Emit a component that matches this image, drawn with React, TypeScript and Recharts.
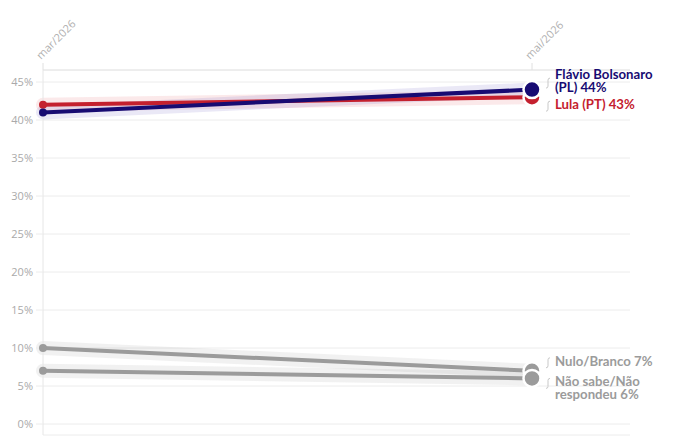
import React from 'react';
import { LineChart, Line, XAxis, YAxis, CartesianGrid } from 'recharts';

const periods = ['mar/2026', 'mai/2026'];
const flavio = [41, 44];
const lula = [42, 43];
const nulo = [10, 7];
const naoSabe = [7, 6];
const yTicks = [0, 5, 10, 15, 20, 25, 30, 35, 40, 45];

const data = periods.map((p, i) => ({
  period: p,
  flavio: flavio[i],
  lula: lula[i],
  nulo: nulo[i],
  naoSabe: naoSabe[i],
}));

const FONT = 'Lato, "Noto Sans", sans-serif';
const TICK_FONT = '"Open Sans", Lato, sans-serif';

type SeriesCfg = {
  key: string;
  color: string;
  halo: string;
  lines: string[];
  dy: number;
};

const series: SeriesCfg[] = [
  { key: 'nulo', color: '#9b9b9b', halo: '#9b9b9b', lines: ['Nulo/Branco 7%'], dy: -5 },
  { key: 'naoSabe', color: '#9b9b9b', halo: '#9b9b9b', lines: ['Não sabe/Não', 'respondeu 6%'], dy: 8 },
  { key: 'lula', color: '#c4202e', halo: '#e0606b', lines: ['Lula (PT) 43%'], dy: 12 },
  { key: 'flavio', color: '#170b72', halo: '#6a5fc0', lines: ['Flávio Bolsonaro', '(PL) 44%'], dy: -10.5 },
];

const LINE_GAP = 12.5;

const makeDot = (color: string) => (props: any) => {
  const { cx, cy, index } = props;
  if (cx == null || cy == null) return <g key={index} />;
  if (index === data.length - 1) {
    return <circle key={index} cx={cx} cy={cy} r={8.5} fill={color} stroke="#fff" strokeWidth={2.5} />;
  }
  return <circle key={index} cx={cx} cy={cy} r={4} fill={color} />;
};

const makeLabel = (s: SeriesCfg) => (props: any) => {
  const { x, y, index } = props;
  if (index !== data.length - 1 || x == null) return <g key={index} />;
  const tx = x + 23;
  const ty = y + s.dy;
  const bracketTop = s.lines.length > 1 && s.dy < 0 ? ty - 2 : ty - 9;
  return (
    <g key={index}>
      <path
        d={`M ${x + 18} ${bracketTop + 1} q -2 0 -2 2 v 6 q 0 2 -2 2`}
        fill="none"
        stroke="#c8c8c8"
        strokeWidth={1}
      />
      <text
        x={tx}
        y={ty}
        fill={s.color}
        fontFamily={FONT}
        fontWeight={700}
        fontSize={13.2}
      >
        {s.lines.map((l, i) => (
          <tspan key={i} x={tx} dy={i === 0 ? 0 : LINE_GAP}>
            {l}
          </tspan>
        ))}
      </text>
    </g>
  );
};

const XTick = (props: any) => {
  const { x, y, payload } = props;
  return (
    <text
      x={x - 2}
      y={y - 1}
      transform={`rotate(-45, ${x - 2}, ${y - 1})`}
      textAnchor="start"
      fill="#b0b0b0"
      fontFamily={TICK_FONT}
      fontSize={11}
    >
      {payload.value}
    </text>
  );
};

export default function App() {
  return (
    <LineChart
      width={673}
      height={439}
      data={data}
      margin={{ top: 0, right: 51, bottom: 12, left: 0 }}
    >
      <CartesianGrid vertical={false} stroke="#ececec" />
      <XAxis
        dataKey="period"
        orientation="top"
        height={62}
        padding={{ left: 0, right: 98 }}
        axisLine={{ stroke: '#e6e6e6' }}
        tickLine={{ stroke: '#e0e0e0' }}
        tickSize={7}
        tick={<XTick />}
        interval={0}
      />
      <YAxis
        type="number"
        domain={[0, 45]}
        ticks={yTicks}
        width={35}
        padding={{ top: 12, bottom: 11 }}
        axisLine={{ stroke: '#e6e6e6' }}
        tickLine={{ stroke: '#ececec' }}
        tickSize={7}
        tickMargin={3}
        tickFormatter={(v: number) => `${v}%`}
        tick={{ fill: '#aaaaaa', fontSize: 11, fontFamily: TICK_FONT }}
      />
      {series.map((s) => (
        <Line
          key={s.key + '-halo'}
          dataKey={s.key}
          stroke={s.halo}
          strokeOpacity={0.14}
          strokeWidth={14}
          strokeLinecap="round"
          dot={false}
          activeDot={false}
          isAnimationActive={false}
        />
      ))}
      {series.map((s) => (
        <Line
          key={s.key}
          dataKey={s.key}
          stroke={s.color}
          strokeWidth={4}
          dot={makeDot(s.color)}
          activeDot={false}
          label={makeLabel(s)}
          isAnimationActive={false}
        />
      ))}
    </LineChart>
  );
}
